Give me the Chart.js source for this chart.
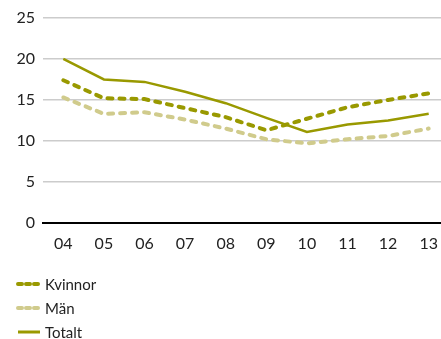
<!DOCTYPE html>
<html>
<head>
<meta charset="utf-8">
<script src="https://cdn.jsdelivr.net/npm/chart.js@4"></script>
<style>
  body { margin: 0; background: #fff; font-family: Lato, sans-serif; }
  #wrap { position: absolute; left: 0; top: 0; width: 441px; height: 256px; overflow: hidden; }
  #box { width: 449px; height: 256px; }
  #legend { position: absolute; left: 16px; top: 272px; font-size: 15px; color: #222; }
  #legend div { height: 24px; display: flex; align-items: center; }
  #legend canvas { margin-right: 3px; }
</style>
</head>
<body>
<div id="wrap"><div id="box"><canvas id="lineChart"></canvas></div></div>
<div id="legend"></div>
<script>
// Dados
const years = ['04', '05', '06', '07', '08', '09', '10', '11', '12', '13'];
const kvinnor = [17.4, 15.2, 15.1, 14.0, 12.9, 11.3, 12.7, 14.1, 15.0, 15.8];
const man = [15.3, 13.3, 13.5, 12.6, 11.5, 10.2, 9.7, 10.2, 10.6, 11.5];
const totalt = [20.0, 17.5, 17.2, 16.0, 14.6, 12.8, 11.1, 12.0, 12.5, 13.3];
const yTicks = [0, 5, 10, 15, 20, 25];

const dark = '#999900';
const light = '#d0cb8c';

const data = {
  labels: years,
  datasets: [
    { label: 'Kvinnor', data: kvinnor, borderColor: dark, borderWidth: 4, borderDash: [5, 7], borderCapStyle: 'round' },
    { label: 'Män', data: man, borderColor: light, borderWidth: 4, borderDash: [5, 7], borderCapStyle: 'round' },
    { label: 'Totalt', data: totalt, borderColor: dark, borderWidth: 2.5 }
  ]
};

const options = {
  responsive: true,
  maintainAspectRatio: false,
  animation: false,
  layout: { padding: { top: 18, right: 0 } },
  elements: { point: { radius: 0 }, line: { tension: 0 } },
  plugins: { legend: { display: false }, tooltip: { enabled: false } },
  scales: {
    x: {
      offset: true,
      grid: { display: false },
      border: { display: true, color: '#000', width: 2 },
      ticks: { color: '#222', font: { family: 'Lato', size: 16 }, padding: 3, maxRotation: 0 }
    },
    y: {
      min: 0, max: 25,
      afterBuildTicks: s => { s.ticks = yTicks.map(v => ({ value: v })); },
      afterFit: s => { s.width = 43; },
      grid: { color: '#cccccc', lineWidth: 1.5, drawTicks: false },
      border: { display: false },
      ticks: { color: '#222', font: { family: 'Lato', size: 16 }, padding: 8 }
    }
  }
};

const ctx = document.getElementById('lineChart').getContext('2d');
new Chart(ctx, { type: 'line', data: data, options: options });

// legenda
const legend = document.getElementById('legend');
data.datasets.forEach(ds => {
  const row = document.createElement('div');
  const c = document.createElement('canvas');
  c.width = 26; c.height = 10;
  const g = c.getContext('2d');
  g.strokeStyle = ds.borderColor;
  g.lineWidth = ds.borderDash ? 4 : 3;
  if (ds.borderDash) { g.setLineDash([4, 4]); g.lineCap = 'round'; }
  g.beginPath(); g.moveTo(2, 5); g.lineTo(24, 5); g.stroke();
  row.appendChild(c);
  row.appendChild(document.createTextNode(ds.label));
  legend.appendChild(row);
});
</script>
</body>
</html>
